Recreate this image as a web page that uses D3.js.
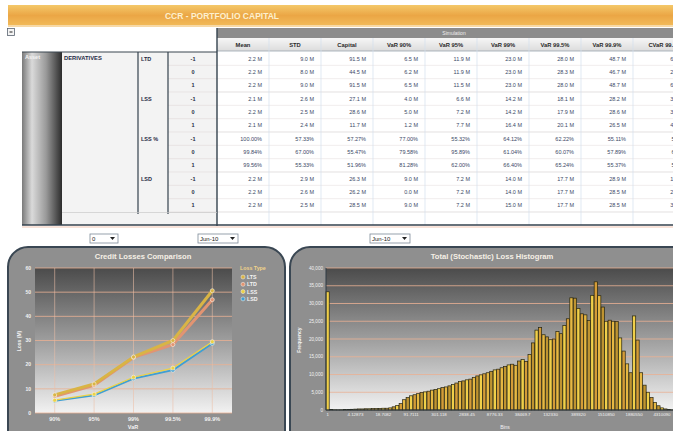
<!DOCTYPE html>
<html>
<head>
<meta charset="utf-8">
<script src="https://cdn.jsdelivr.net/npm/d3@7/dist/d3.min.js"></script>
<style>
  body { margin: 0; background: #fff; }
  svg { display: block; font-family: "Liberation Sans", Arial, sans-serif; }
</style>
</head>
<body>
<svg id="chart" width="673" height="431"></svg>
<script>
// ---- table data ----
const columns = ['Mean', 'STD', 'Capital', 'VaR 90%', 'VaR 95%', 'VaR 99%', 'VaR 99.5%', 'VaR 99.9%', 'CVaR 99.9%'];
const measures = ['LTD', 'LSS', 'LSS %', 'LSD'];
const stresses = ['-1', '0', '1'];
const cells = [
  ['2.2 M', '9.0 M', '91.5 M', '6.5 M', '11.9 M', '23.0 M', '28.0 M', '48.7 M', '61.5 M'],
  ['2.2 M', '8.0 M', '44.5 M', '6.2 M', '11.9 M', '23.0 M', '28.3 M', '46.7 M', '29.0 M'],
  ['2.2 M', '9.0 M', '91.5 M', '6.5 M', '11.5 M', '23.0 M', '28.0 M', '48.7 M', '61.5 M'],
  ['2.1 M', '2.6 M', '27.1 M', '4.0 M', '6.6 M', '14.2 M', '18.1 M', '28.2 M', '33.1 M'],
  ['2.2 M', '2.5 M', '28.6 M', '5.0 M', '7.2 M', '14.2 M', '17.9 M', '28.6 M', '33.4 M'],
  ['2.1 M', '2.4 M', '11.7 M', '1.2 M', '7.7 M', '16.4 M', '20.1 M', '26.5 M', '41.2 M'],
  ['100.00%', '57.33%', '57.27%', '77.00%', '55.32%', '64.12%', '62.22%', '55.11%', '55.0%'],
  ['99.84%', '67.00%', '55.47%', '79.58%', '95.89%', '61.04%', '60.07%', '57.89%', '62.0%'],
  ['99.56%', '55.33%', '51.96%', '81.28%', '62.00%', '66.40%', '65.24%', '55.37%', '55.0%'],
  ['2.2 M', '2.9 M', '26.3 M', '9.0 M', '7.2 M', '14.0 M', '17.7 M', '28.9 M', '19.0 M'],
  ['2.2 M', '2.6 M', '26.2 M', '0.0 M', '7.2 M', '14.0 M', '17.7 M', '28.5 M', '29.0 M'],
  ['2.2 M', '2.5 M', '28.5 M', '9.0 M', '7.2 M', '15.0 M', '17.7 M', '28.5 M', '33.0 M']
];

// ---- credit losses comparison ----
const varLevels = ['90%', '95%', '99%', '99.5%', '99.9%'];
const lossTypes = ['LTS', 'LTD', 'LSS', 'LSD'];
const lossLTS = [7.5, 12.0, 23.2, 30.0, 50.6];
const lossLTD = [6.9, 11.5, 23.0, 28.3, 46.9];
const lossLSS = [5.3, 7.8, 14.8, 18.6, 29.5];
const lossLSD = [5.0, 7.3, 14.2, 17.7, 28.8];
const lossColors = ['#d9b445', '#e29472', '#ecd245', '#3f9fd3'];

// ---- loss histogram ----
const binLabels = ['1', '4.12873', '18.7082', '91.7111', '301.118', '2838.45', '8776.33', '38469.7', '132330', '389320', '1510850', '1880550', '4310090'];
const binCounts = [
  33300, 100, 80, 60, 80, 100, 150, 200, 250, 300,
  300, 350, 350, 400, 400, 450, 500, 500, 600, 900,
  1300, 1800, 2900, 3500, 4000, 4300, 4600, 4900, 5100, 5300,
  5600, 5800, 6000, 6300, 6500, 6800, 7200, 7600, 8000, 8200,
  8500, 8700, 9200, 9600, 9900, 10200, 10500, 10900, 11300, 11500,
  11900, 12300, 12700, 12900, 12600, 13800, 14200, 13700, 15600, 18900,
  22500, 23200, 21200, 20600, 19800, 20000, 22100, 21500, 23800, 25700,
  31600, 31500, 28600, 27100, 26800, 25200, 32300, 36100, 32200, 29000,
  25000, 25300, 25000, 24900, 20300, 16600, 13000, 10500, 26500, 19700,
  10500, 7000, 5000, 3500, 2100, 1200, 600, 300, 150, 50
];
const barColors = ['#f0cf4a', '#d49c38', '#e6b843', '#bf9431'];

const svg = d3.select('#chart');
const defs = svg.append('defs');

function vGrad (id, stops) {
  const g = defs.append('linearGradient').attr('id', id)
    .attr('x1', 0).attr('y1', 0).attr('x2', 0).attr('y2', 1);
  stops.forEach(s => g.append('stop').attr('offset', s[0]).attr('stop-color', s[1]));
}
function hGrad (id, stops) {
  const g = defs.append('linearGradient').attr('id', id)
    .attr('x1', 0).attr('y1', 0).attr('x2', 1).attr('y2', 0);
  stops.forEach(s => g.append('stop').attr('offset', s[0]).attr('stop-color', s[1]));
}
vGrad('hdr', [[0, '#f4c86a'], [0.5, '#eba645'], [1, '#f2bb5a']]);
vGrad('plotBg', [[0, '#4b4b4b'], [0.55, '#a6a6a6'], [1, '#f2f2f2']]);
vGrad('colHdr', [[0, '#f6f6f6'], [1, '#dcdcdc']]);
hGrad('cyl', [[0, '#7a7a7a'], [0.25, '#dadada'], [0.6, '#9a9a9a'], [1, '#2c2c2c']]);

// ---- page header ----
svg.append('rect').attr('x', 8).attr('y', 5).attr('width', 665).attr('height', 21).attr('fill', 'url(#hdr)');
svg.append('rect').attr('x', 8).attr('y', 25).attr('width', 665).attr('height', 2).attr('fill', '#f7d9a6');
svg.append('text').attr('x', 222).attr('y', 19).attr('text-anchor', 'middle')
  .attr('font-size', 8.5).attr('font-weight', 'bold').attr('fill', '#fdf0cf')
  .text('CCR - PORTFOLIO CAPITAL');

// collapse button
svg.append('rect').attr('x', 7.5).attr('y', 28.5).attr('width', 7).attr('height', 7)
  .attr('fill', '#f4f4f4').attr('stroke', '#5a6470').attr('stroke-width', 0.8);
svg.append('line').attr('x1', 9.5).attr('x2', 12.5).attr('y1', 32).attr('y2', 32).attr('stroke', '#222');

// ---- table ----
const rowY = d3.scaleBand().domain(d3.range(cells.length)).range([52, 212]);
const colX = d3.scaleBand().domain(columns).range([217, 217 + 52 * columns.length]);

// left block
svg.append('rect').attr('x', 62).attr('y', 52).attr('width', 155).attr('height', 173).attr('fill', '#f3f3f3');
svg.append('rect').attr('x', 22).attr('y', 52).attr('width', 40).attr('height', 173).attr('fill', 'url(#cyl)');
svg.append('text').attr('x', 25).attr('y', 59).attr('font-size', 5.5).attr('font-weight', 'bold')
  .attr('fill', '#f4f4f4').text('Asset');
svg.append('text').attr('x', 64).attr('y', 60).attr('font-size', 5.8).attr('font-weight', 'bold')
  .attr('fill', '#1f2a44').text('DERIVATIVES');
svg.append('line').attr('x1', 22).attr('x2', 217).attr('y1', 52).attr('y2', 52).attr('stroke', '#3a4650').attr('stroke-width', 1.2);

// right block
const tableRight = 673;
svg.append('rect').attr('x', 217).attr('y', 28).attr('width', tableRight - 217).attr('height', 10).attr('fill', '#8c8c8c');
svg.append('text').attr('x', 454).attr('y', 35).attr('text-anchor', 'middle').attr('font-size', 5)
  .attr('fill', '#eeeeee').text('Simulation');
svg.append('rect').attr('x', 217).attr('y', 38).attr('width', tableRight - 217).attr('height', 13).attr('fill', 'url(#colHdr)');
svg.append('rect').attr('x', 217).attr('y', 51).attr('width', tableRight - 217).attr('height', 174).attr('fill', '#ffffff');
svg.append('line').attr('x1', 217).attr('x2', tableRight).attr('y1', 51).attr('y2', 51).attr('stroke', '#9aa4ae').attr('stroke-width', 0.8);

// last column runs past the window edge, as in the original screen
svg.selectAll('.colHead').data(columns).join('text')
  .attr('x', d => colX(d) + colX.bandwidth() / 2 + (d === 'CVaR 99.9%' ? 6 : 0)).attr('y', 47)
  .attr('text-anchor', 'middle').attr('font-size', 5.8).attr('font-weight', 'bold').attr('fill', '#2a2a2a')
  .text(d => d);

// row lines
svg.selectAll('.rowLine').data(d3.range(1, cells.length + 1)).join('line')
  .attr('x1', 217).attr('x2', tableRight)
  .attr('y1', d => rowY(d - 1) + rowY.bandwidth()).attr('y2', d => rowY(d - 1) + rowY.bandwidth())
  .attr('stroke', d => d % 3 === 0 ? '#d7d2d2' : '#ebe6e6').attr('stroke-width', 0.7);
svg.selectAll('.rowLineL').data(d3.range(1, cells.length + 1)).join('line')
  .attr('x1', 168).attr('x2', 217)
  .attr('y1', d => rowY(d - 1) + rowY.bandwidth()).attr('y2', d => rowY(d - 1) + rowY.bandwidth())
  .attr('stroke', '#e4dede').attr('stroke-width', 0.7);
// column lines
svg.selectAll('.colLine').data(columns.slice(1)).join('line')
  .attr('x1', d => colX(d)).attr('x2', d => colX(d)).attr('y1', 38).attr('y2', 225)
  .attr('stroke', '#d2e0ee').attr('stroke-width', 0.7);

// measure + stress labels
measures.forEach((m, i) => {
  svg.append('text').attr('x', 141).attr('y', rowY(i * 3) + 8.5).attr('font-size', 5.5)
    .attr('font-weight', 'bold').attr('fill', '#1f2a44').text(m);
});
svg.selectAll('.stress').data(cells).join('text')
  .attr('x', 193).attr('y', (d, i) => rowY(i) + 8.5).attr('text-anchor', 'middle')
  .attr('font-size', 5.5).attr('font-weight', 'bold').attr('fill', '#1f2a44')
  .text((d, i) => stresses[i % 3]);

// cell values
cells.forEach((row, r) => {
  svg.selectAll('.cell' + r).data(row).join('text')
    .attr('x', (d, c) => colX(columns[c]) + colX.bandwidth() - (c === columns.length - 1 ? -2 : 7))
    .attr('y', rowY(r) + 8.5).attr('text-anchor', 'end')
    .attr('font-size', 5.5).attr('fill', '#3b4866')
    .text(d => d);
});

// structural lines
[[138, 52, 214], [168, 52, 214]].forEach(l => {
  svg.append('line').attr('x1', l[0]).attr('x2', l[0]).attr('y1', l[1]).attr('y2', l[2])
    .attr('stroke', '#34424e').attr('stroke-width', 1.2);
});
svg.append('line').attr('x1', 217).attr('x2', 217).attr('y1', 28).attr('y2', 226).attr('stroke', '#34424e').attr('stroke-width', 1.4);
svg.append('line').attr('x1', 62).attr('x2', 217).attr('y1', 212.5).attr('y2', 212.5).attr('stroke', '#c8c8c8').attr('stroke-width', 0.7);
svg.append('line').attr('x1', 22).attr('x2', tableRight).attr('y1', 225).attr('y2', 225).attr('stroke', '#34424e').attr('stroke-width', 1.6);
svg.append('line').attr('x1', 22).attr('x2', tableRight).attr('y1', 227).attr('y2', 227).attr('stroke', '#f2c7b4').attr('stroke-width', 1);

// ---- dropdowns ----
function dropdown (x, y, w, label) {
  const g = svg.append('g').attr('transform', `translate(${x},${y})`);
  g.append('rect').attr('width', w).attr('height', 9).attr('fill', '#fff').attr('stroke', '#7d8a98').attr('stroke-width', 0.8);
  g.append('text').attr('x', 2).attr('y', 7).attr('font-size', 6).attr('fill', '#222').text(label);
  g.append('path').attr('d', `M${w - 8},3 L${w - 3},3 L${w - 5.5},6 Z`).attr('fill', '#222');
}
dropdown(90, 234, 28, '0');
dropdown(198, 234, 40, 'Jun-10');
dropdown(370, 234, 40, 'Jun-10');

// ---- panels ----
function panel (x, w, title, titleX) {
  svg.append('rect').attr('x', x).attr('y', 247).attr('width', w).attr('height', 210).attr('rx', 20)
    .attr('fill', '#8f8f8f').attr('stroke', '#3a4753').attr('stroke-width', 2);
  svg.append('text').attr('x', titleX).attr('y', 259).attr('text-anchor', 'middle')
    .attr('font-size', 7.6).attr('font-weight', 'bold').attr('fill', '#f6f0e6').text(title);
}
panel(8, 277, 'Credit Losses Comparison', 143);
panel(290, 420, 'Total (Stochastic) Loss Histogram', 492);

// ---- credit losses line chart ----
const lx = d3.scalePoint().domain(varLevels).range([35, 232]).padding(0.5);
const ly = d3.scaleLinear().domain([0, 60]).range([413, 268]);
svg.append('rect').attr('x', 35).attr('y', 268).attr('width', 197).attr('height', 145).attr('fill', 'url(#plotBg)');
svg.selectAll('.lgy').data(ly.ticks(6)).join('line')
  .attr('x1', 35).attr('x2', 232).attr('y1', d => ly(d)).attr('y2', d => ly(d))
  .attr('stroke', '#eab093').attr('stroke-width', 0.8);
svg.selectAll('.lgx').data(varLevels).join('line')
  .attr('x1', d => lx(d)).attr('x2', d => lx(d)).attr('y1', 268).attr('y2', 413)
  .attr('stroke', '#eec0a8').attr('stroke-width', 0.7).attr('opacity', 0.8);
svg.selectAll('.lty').data(ly.ticks(6)).join('text')
  .attr('x', 31).attr('y', d => ly(d) + 1.8).attr('text-anchor', 'end')
  .attr('font-size', 5).attr('font-weight', 'bold').attr('fill', '#f2f2f2').text(d => d);
svg.selectAll('.ltx').data(varLevels).join('text')
  .attr('x', d => lx(d)).attr('y', 421).attr('text-anchor', 'middle')
  .attr('font-size', 5.5).attr('font-weight', 'bold').attr('fill', '#f2f2f2').text(d => d);
svg.append('text').attr('x', 133).attr('y', 429).attr('text-anchor', 'middle')
  .attr('font-size', 5.5).attr('font-weight', 'bold').attr('fill', '#f2f2f2').text('VaR');
svg.append('text').attr('transform', 'translate(21,341) rotate(-90)').attr('text-anchor', 'middle')
  .attr('font-size', 5).attr('font-weight', 'bold').attr('fill', '#f2f2f2').text('Loss (M)');

const lossSeries = [lossLTS, lossLTD, lossLSS, lossLSD];
const lineWidths = [3, 3, 1.2, 1.8];
const line = d3.line().x((d, i) => lx(varLevels[i])).y(d => ly(d));
[1, 0, 3, 2].forEach(k => {
  svg.append('path').datum(lossSeries[k]).attr('d', line).attr('fill', 'none')
    .attr('stroke', lossColors[k]).attr('stroke-width', lineWidths[k]).attr('stroke-linejoin', 'round');
});
[1, 0, 3, 2].forEach(k => {
  svg.selectAll('.pt' + k).data(lossSeries[k]).join('circle')
    .attr('cx', (d, i) => lx(varLevels[i])).attr('cy', d => ly(d)).attr('r', 2)
    .attr('fill', lossColors[k]).attr('stroke', '#f8f4ea').attr('stroke-width', 0.6);
});

// legend
svg.append('text').attr('x', 240).attr('y', 270).attr('font-size', 5.3).attr('font-weight', 'bold')
  .attr('fill', '#f2d48a').text('Loss Type');
lossTypes.forEach((t, i) => {
  const y = 277 + i * 7.3;
  svg.append('circle').attr('cx', 243).attr('cy', y).attr('r', 2)
    .attr('fill', lossColors[i]).attr('stroke', '#f8f4ea').attr('stroke-width', 0.5);
  svg.append('text').attr('x', 247).attr('y', y + 2).attr('font-size', 5.3).attr('font-weight', 'bold')
    .attr('fill', '#f4f4f4').text(t);
});

// ---- histogram ----
const hx = d3.scaleBand().domain(d3.range(binCounts.length)).range([326, 674]).paddingInner(0.08);
const hy = d3.scaleLinear().domain([0, 40000]).range([410, 268]);
svg.append('rect').attr('x', 326).attr('y', 268).attr('width', 348).attr('height', 142).attr('fill', 'url(#plotBg)');
svg.selectAll('.hgy').data(hy.ticks(8).slice(1)).join('line')
  .attr('x1', 326).attr('x2', 674).attr('y1', d => hy(d)).attr('y2', d => hy(d))
  .attr('stroke', '#eab093').attr('stroke-width', 0.8);
svg.selectAll('.bar').data(binCounts).join('rect')
  .attr('x', (d, i) => hx(i)).attr('width', hx.bandwidth())
  .attr('y', d => hy(d)).attr('height', d => hy(0) - hy(d))
  .attr('fill', (d, i) => barColors[i % barColors.length])
  .attr('stroke', '#26240f').attr('stroke-width', 0.7);
svg.append('line').attr('x1', 326).attr('x2', 326).attr('y1', 268).attr('y2', 410).attr('stroke', '#2f3a44');
svg.append('line').attr('x1', 326).attr('x2', 674).attr('y1', 410).attr('y2', 410).attr('stroke', '#2f3a44');
svg.selectAll('.hty').data(hy.ticks(8)).join('text')
  .attr('x', 323).attr('y', d => hy(d) + 1.7).attr('text-anchor', 'end')
  .attr('font-size', 4.6).attr('fill', '#f2f2f2').text(d3.format(','));
svg.selectAll('.htx').data(binLabels).join('text')
  .attr('x', (d, i) => hx(i * 8) + hx.bandwidth() / 2).attr('y', 416).attr('text-anchor', 'middle')
  .attr('font-size', 4.4).attr('fill', '#f2f2f2').text(d => d);
svg.append('text').attr('x', 505).attr('y', 429).attr('text-anchor', 'middle')
  .attr('font-size', 5).attr('fill', '#f2f2f2').text('Bins');
svg.append('text').attr('transform', 'translate(301,340) rotate(-90)').attr('text-anchor', 'middle')
  .attr('font-size', 5).attr('font-weight', 'bold').attr('fill', '#f2f2f2').text('Frequency');
</script>
</body>
</html>
